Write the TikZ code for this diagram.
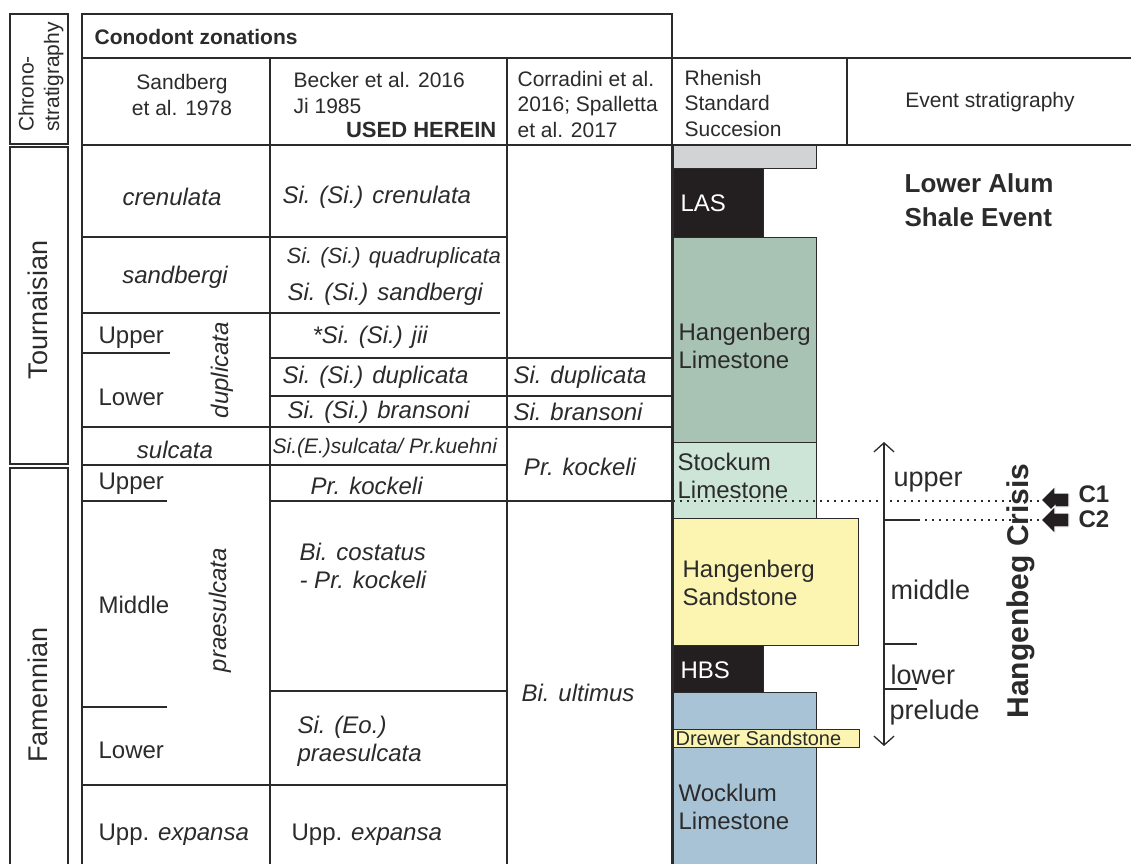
\documentclass[tikz,border=0pt]{standalone}
\usepackage{fontspec}
\setmainfont{Liberation Sans}
\usetikzlibrary{arrows.meta,positioning}
\definecolor{ink}{HTML}{2B2B2B}
\definecolor{capgrey}{HTML}{D2D3D5}
\definecolor{shale}{HTML}{231F20}
\definecolor{hlime}{HTML}{A8C2B3}
\definecolor{stock}{HTML}{CCE5D6}
\definecolor{sand}{HTML}{FCF5B2}
\definecolor{wock}{HTML}{A8C3D5}
\newcommand{\fsz}[2]{\fontsize{#1}{#2}\selectfont}

\begin{document}
\begin{tikzpicture}[x=1pt,y=-1pt,line width=1.2pt,color=ink,
    frame/.style={line width=2.6pt},
    lbl/.style={inner sep=0pt,align=left,font=\fsz{24}{28}},
    zone/.style={lbl,font=\fsz{24}{28}\itshape},
    hdr/.style={inner sep=0pt,align=left,font=\fsz{21}{25.5}},
    bed/.style={draw=ink,line width=1pt},
    bedtxt/.style={inner sep=0pt,anchor=west,align=left,font=\fsz{24}{28}},
    evt/.style={inner sep=0pt,anchor=west,font=\fsz{27}{30}},
    crisis/.style={fill=shale,draw=white,line width=1.2pt},
    barb/.style={{Straight Barb[length=9pt,width=20pt]}-{Straight Barb[length=9pt,width=20pt]}}]

  \fill[white] (0,0) rectangle (1131,863);
  \useasboundingbox (0,0) rectangle (1131,863);

  % chronostratigraphy
  \draw[frame] (10,14) rectangle (68,144);
  \draw[frame] (10,147) rectangle (68,464);
  \draw[frame] (10,468) rectangle (68,880);
  \node[hdr,rotate=90] (chrono) at (41,77) {Chrono-\\stratigraphy};
  \node[rotate=90,inner sep=0pt,font=\fsz{27}{27}] (tourn) at (38,310) {Tournaisian};
  \node[rotate=90,inner sep=0pt,font=\fsz{27}{27}] (famen) at (38,695) {Famennian};

  % zonation table
  \draw (82,58) -- (1131,58);
  \draw (82,145) -- (1131,145);
  \draw (270,58) -- (270,880);
  \draw (507,58) -- (507,880);
  \draw (847,58) -- (847,145);
  \draw (82,237) -- (507,237);
  \draw (82,313) -- (500,313);
  \draw (82,353) -- (170,353);
  \draw (270,358) -- (672,358);
  \draw (270,396) -- (672,396);
  \draw (82,427) -- (672,427);
  \draw[line width=2.2pt] (82,465) -- (507,465);
  \draw (82,501) -- (167,501);
  \draw (270,501) -- (672,501);
  \draw (270,691) -- (507,691);
  \draw (82,707) -- (167,707);
  \draw (82,785) -- (507,785);
  \draw[frame] (82,880) -- (82,14) -- (672,14) -- (672,880);

  \node[hdr,anchor=west,font=\fsz{21}{25}\bfseries] (cono) at (94,37) {Conodont zonations};
  \node[hdr,align=center] (sandh) at (182,95) {Sandberg\\et al. 1978};
  \node[hdr,anchor=west] (beckh) at (293,93) {Becker et al. 2016\\Ji 1985};
  \node[hdr,anchor=east,font=\fsz{22}{25}\bfseries] (used) at (497,130) {USED HEREIN};
  \node[hdr,anchor=west] (corh) at (517,104) {Corradini et al.\\2016; Spalletta\\et al. 2017};
  \node[hdr,anchor=west] (rhenh) at (684,103) {Rhenish\\Standard\\Succesion};
  \node[hdr] (evh) at (990,102) {Event stratigraphy};

  \node[zone] (cren) at (172,197) {crenulata};
  \node[zone] (sandb) at (175,277) {sandbergi};
  \node[lbl,anchor=west] (dupu) at (98,338) {Upper};
  \node[lbl,anchor=west] (dupl) at (98,397) {Lower};
  \node[zone,rotate=90] (dup) at (222,370) {duplicata};
  \node[zone] (sulc) at (175,450) {sulcata};
  \node[lbl,anchor=west] (prau) at (98,484) {Upper};
  \node[lbl,anchor=west] (pram) at (98,605) {Middle};
  \node[lbl,anchor=west] (pral) at (98,750) {Lower};
  \node[zone,rotate=90] (pra) at (220,610) {praesulcata};
  \node[lbl,anchor=west] (expa) at (98,835) {Upp. \textit{expansa}};

  \node[zone,anchor=west] (bcren) at (282,197) {Si. (Si.) crenulata};
  \node[zone,anchor=west,font=\fsz{22}{26}\itshape] (bquad) at (286,258) {Si. (Si.) quadruplicata};
  \node[zone,anchor=west] (bsand) at (287,294) {Si. (Si.) sandbergi};
  \node[zone,anchor=west] (bjii) at (312,337) {*Si. (Si.) jii};
  \node[zone,anchor=west] (bdup) at (282,377) {Si. (Si.) duplicata};
  \node[zone,anchor=west] (bbran) at (287,412) {Si. (Si.) bransoni};
  \node[zone,anchor=west,font=\fsz{21}{24}\itshape] (bsulc) at (272,448) {Si.(E.)sulcata/ Pr.kuehni};
  \node[zone,anchor=west] (bkock) at (310,486) {Pr. kockeli};
  \node[zone,anchor=west] (bcost) at (299,566) {Bi. costatus\\- Pr. kockeli};
  \node[zone,anchor=west] (bpra) at (297,741) {Si. (Eo.)\\praesulcata};
  \node[lbl,anchor=west] (bexpa) at (291,835) {Upp. \textit{expansa}};

  \node[zone,anchor=west] (cdup) at (513,377) {Si. duplicata};
  \node[zone,anchor=west] (cbran) at (513,412) {Si. bransoni};
  \node[zone] (ckock) at (580,467) {Pr. kockeli};
  \node[zone] (cult) at (578,693) {Bi. ultimus};

  % Rhenish succession
  \filldraw[bed,fill=capgrey] (673,145) rectangle (816,168);
  \filldraw[bed,fill=shale] (673,168) rectangle (763,237);
  \filldraw[bed,fill=hlime] (673,237) rectangle (816,442);
  \filldraw[bed,fill=stock] (673,442) rectangle (816,518);
  \filldraw[bed,fill=sand] (673,518) rectangle (858,645);
  \filldraw[bed,fill=shale] (673,645) rectangle (763,692);
  \filldraw[bed,fill=wock] (673,692) rectangle (816,880);
  \filldraw[bed,fill=sand] (673,729) rectangle (859,747);
  \draw[frame] (672,14) -- (672,880);

  \node[bedtxt,text=white] (las) at (680,203) {LAS};
  \node[bedtxt] (hlim) at (678,346) {Hangenberg\\Limestone};
  \node[bedtxt] (stockum) at (677,476) {Stockum\\Limestone};
  \node[bedtxt] (hsand) at (682,583) {Hangenberg\\Sandstone};
  \node[bedtxt,text=white] (hbs) at (680,670) {HBS};
  \node[bedtxt,font=\fsz{20}{20}] (drewer) at (675,738) {Drewer Sandstone};
  \node[bedtxt] (wocklum) at (678,807) {Wocklum\\Limestone};

  % event stratigraphy
  \node[inner sep=0pt,anchor=west,align=left,font=\fsz{26}{34}\bfseries] (lase) at (904,200) {Lower Alum\\Shale Event};

  \coordinate (evtop) at (884,442);
  \coordinate (evbot) at (884,746);
  \draw[barb,line width=1.3pt] (evtop) -- (evbot);
  \draw (884,520) -- (918,520);
  \draw (884,644) -- (917,644);
  \draw (884,689) -- (917,689);
  \draw[line width=1.3pt,dash pattern=on 1.5pt off 5.5pt] (673,501) -- (1040,501);
  \draw[line width=1.3pt,dash pattern=on 1.5pt off 5.5pt] (918,520) -- (1040,520);

  \node[evt] (up) at (893,482) {upper};
  \node[evt] (mid) at (890,590) {middle};
  \node[evt] (low) at (890,675) {lower};
  \node[evt] (pre) at (889,713) {prelude};
  \node[rotate=90,inner sep=0pt,font=\fsz{30}{30}\bfseries] (crisis) at (1021,591) {Hangenbeg Crisis};

  \filldraw[crisis] (1041,500) -- ++(14,-14) -- ++(0,7) -- ++(14,0) -- ++(0,14) -- ++(-14,0) -- ++(0,7) -- cycle;
  \filldraw[crisis] (1041,520) -- ++(14,-14) -- ++(0,7) -- ++(14,0) -- ++(0,14) -- ++(-14,0) -- ++(0,7) -- cycle;
  \node[inner sep=0pt,anchor=west,font=\fsz{24}{24}\bfseries] (c1) at (1078,494) {C1};
  \node[inner sep=0pt,anchor=west,font=\fsz{24}{24}\bfseries] (c2) at (1078,519) {C2};
\end{tikzpicture}
\end{document}
